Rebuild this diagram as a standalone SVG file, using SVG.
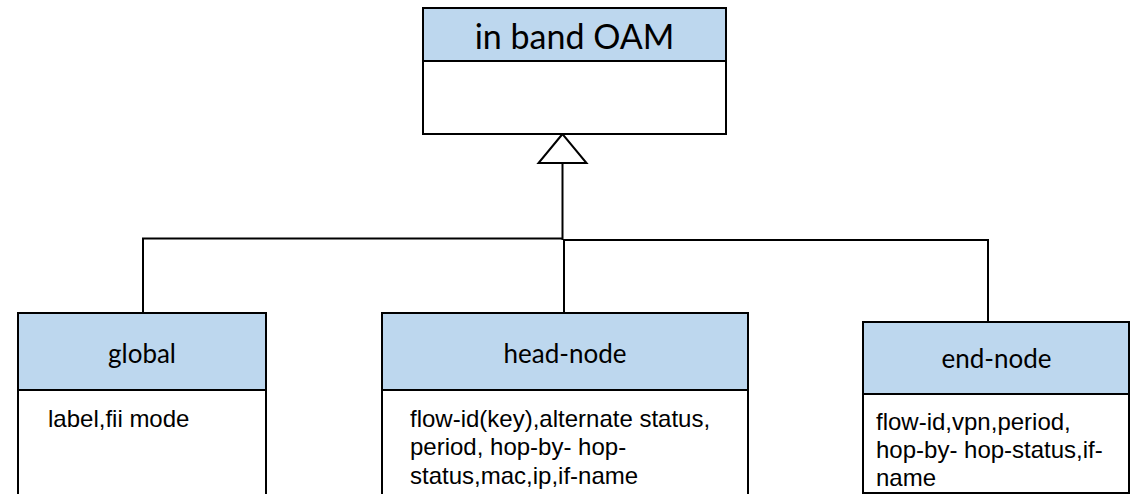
<svg xmlns="http://www.w3.org/2000/svg" width="1141" height="494" viewBox="0 0 1141 494">
<style>
.hd{fill:#bdd7ee;stroke:#000;stroke-width:2}
.bd{fill:#fff;stroke:#000;stroke-width:2}
.ttl{font-family:Lato,"Open Sans",sans-serif;fill:#000;text-anchor:middle}
.txt{font-family:"Liberation Sans",Arial,sans-serif;font-size:24px;fill:#000}
.ln{fill:none;stroke:#000;stroke-width:2}
</style>
<rect width="1141" height="494" fill="#fff"/>
<g id="connectors">
<path class="ln" d="M143,313 V238.5 H563"/>
<path class="ln" d="M988,322 V240 H563"/>
<path class="ln" d="M562.5,163 V240 M564,240 V313"/>
<polygon points="562.5,134 538.5,163 586.5,163" fill="#fff" stroke="#000" stroke-width="2"/>
</g>
<g id="in-band-oam">
<rect class="bd" x="423" y="61" width="303" height="73"/>
<rect class="hd" x="423" y="8" width="303" height="53"/>
<text class="ttl" x="574.5" y="49" font-size="34">in band OAM</text>
</g>
<g id="global">
<rect class="bd" x="18" y="390" width="248" height="120"/>
<rect class="hd" x="18" y="313" width="248" height="77"/>
<text class="ttl" x="142" y="363" font-size="26">global</text>
<text class="txt" x="48" y="426.5">label,fii mode</text>
</g>
<g id="head-node">
<rect class="bd" x="382" y="390" width="366" height="120"/>
<rect class="hd" x="382" y="313" width="366" height="77"/>
<text class="ttl" x="565" y="363" font-size="26">head-node</text>
<text class="txt" x="410" y="426.5">flow-id(key),alternate status,</text>
<text class="txt" x="410" y="455.2">period, hop-by- hop-</text>
<text class="txt" x="410" y="484">status,mac,ip,if-name</text>
</g>
<g id="end-node">
<rect class="bd" x="863" y="394" width="266" height="99"/>
<rect class="hd" x="863" y="322" width="266" height="72"/>
<text class="ttl" x="996.5" y="368" font-size="26">end-node</text>
<text class="txt" x="876" y="430">flow-id,vpn,period,</text>
<text class="txt" x="876" y="457.5">hop-by- hop-status,if-</text>
<text class="txt" x="876" y="485.5">name</text>
</g>
</svg>
